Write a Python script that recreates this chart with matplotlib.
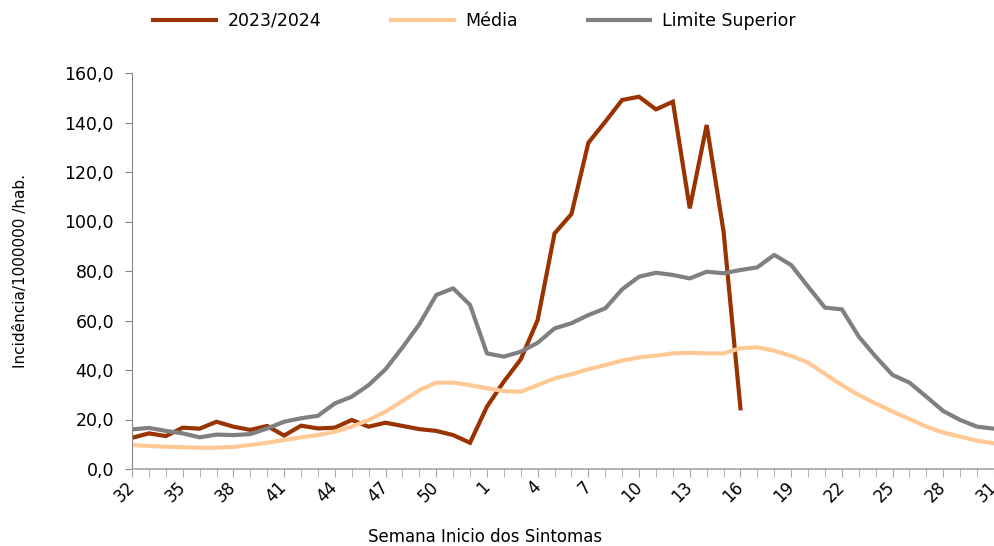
import matplotlib
matplotlib.use("Agg")
import matplotlib.pyplot as plt
from matplotlib.ticker import FuncFormatter, MultipleLocator, FixedLocator

weeks = list(range(32, 53)) + list(range(1, 32))

serie_2023_2024 = [12.6, 14.4, 13.3, 16.7, 16.3, 19.1, 17.1, 15.8, 17.4, 13.5,
                   17.5, 16.4, 16.7, 19.8, 17.1, 18.7, 17.4, 16.1, 15.4, 13.7,
                   10.6, 25.2, 35.3, 44.3, 60.2, 95.2, 103.0, 131.8, 140.3, 149.1,
                   150.4, 145.3, 148.4, 105.3, 139.0, 95.9, 24.5]

media = [9.7, 9.3, 9.0, 8.8, 8.6, 8.6, 8.9, 9.7, 10.6, 11.7,
         12.8, 13.7, 15.1, 17.1, 19.8, 23.2, 27.5, 31.8, 34.9, 34.9,
         33.9, 32.6, 31.5, 31.2, 33.9, 36.6, 38.3, 40.3, 42.0, 43.8,
         45.1, 45.8, 46.7, 47.0, 46.7, 46.7, 48.8, 49.2, 47.8, 45.7,
         43.0, 38.4, 33.9, 29.9, 26.5, 23.2, 20.2, 17.1, 14.7, 13.1,
         11.4, 10.4]

limite_superior = [16.0, 16.6, 15.4, 14.4, 12.8, 13.9, 13.7, 14.1, 16.4, 19.1,
                   20.5, 21.5, 26.5, 29.2, 33.9, 40.3, 49.1, 58.5, 70.3, 73.0,
                   66.3, 46.7, 45.4, 47.4, 51.0, 56.8, 58.9, 62.2, 64.9, 72.6,
                   77.7, 79.3, 78.4, 77.0, 79.7, 79.1, 80.4, 81.5, 86.5, 82.4,
                   73.7, 65.2, 64.5, 53.5, 45.4, 38.0, 34.9, 29.2, 23.4, 19.8,
                   17.1, 16.3]

plt.rcParams['font.family'] = ['DejaVu Sans']

fig = plt.figure(figsize=(9.95, 5.46), dpi=100)
ax = fig.add_axes([132/995, 1-469/546, (994-132)/995, (469-73)/546])

idx = list(range(len(weeks)))
ax.plot(idx[:len(serie_2023_2024)], serie_2023_2024, color='#993300', lw=3, label='2023/2024', solid_joinstyle='miter')
ax.plot(idx, media, color='#FFC894', lw=3, label='Média')
ax.plot(idx, limite_superior, color='#808080', lw=3, label='Limite Superior')

ax.set_xlim(0, len(weeks) - 1)
ax.set_ylim(0, 160)
ax.yaxis.set_major_locator(MultipleLocator(20))
ax.yaxis.set_major_formatter(FuncFormatter(lambda v, p: f"{v:.1f}".replace('.', ',')))

major = idx[::3]
ax.xaxis.set_major_locator(FixedLocator(major))
ax.xaxis.set_minor_locator(FixedLocator(idx))
ax.set_xticklabels([str(weeks[i]) for i in major], rotation=45, ha='right',
                   rotation_mode='anchor', fontsize=12)
for lab in ax.get_xticklabels():
    lab.set_va('center')

ax.tick_params(axis='x', which='both', length=6, color='#A6A6A6', pad=5)
ax.tick_params(axis='y', length=5, color='#868686', labelsize=12.5, pad=8)

for s in ['top', 'right']:
    ax.spines[s].set_visible(False)
ax.spines['left'].set_color('#868686')
ax.spines['bottom'].set_color('#A6A6A6')
ax.spines['bottom'].set_linewidth(1.2)

ax.set_ylabel('Incidência/1000000 /hab.', fontsize=11)
ax.yaxis.set_label_coords(-0.121, 0.5)
ax.set_xlabel('Semana Inicio dos Sintomas', fontsize=12)
ax.xaxis.set_label_coords(0.41, -0.148)

fig.legend(loc='center', bbox_to_anchor=(0.477, 0.962), ncol=3, frameon=False,
           fontsize=12.5, handlelength=3.6, columnspacing=4.0, handletextpad=0.7)

fig.savefig('out.png', dpi=100)
